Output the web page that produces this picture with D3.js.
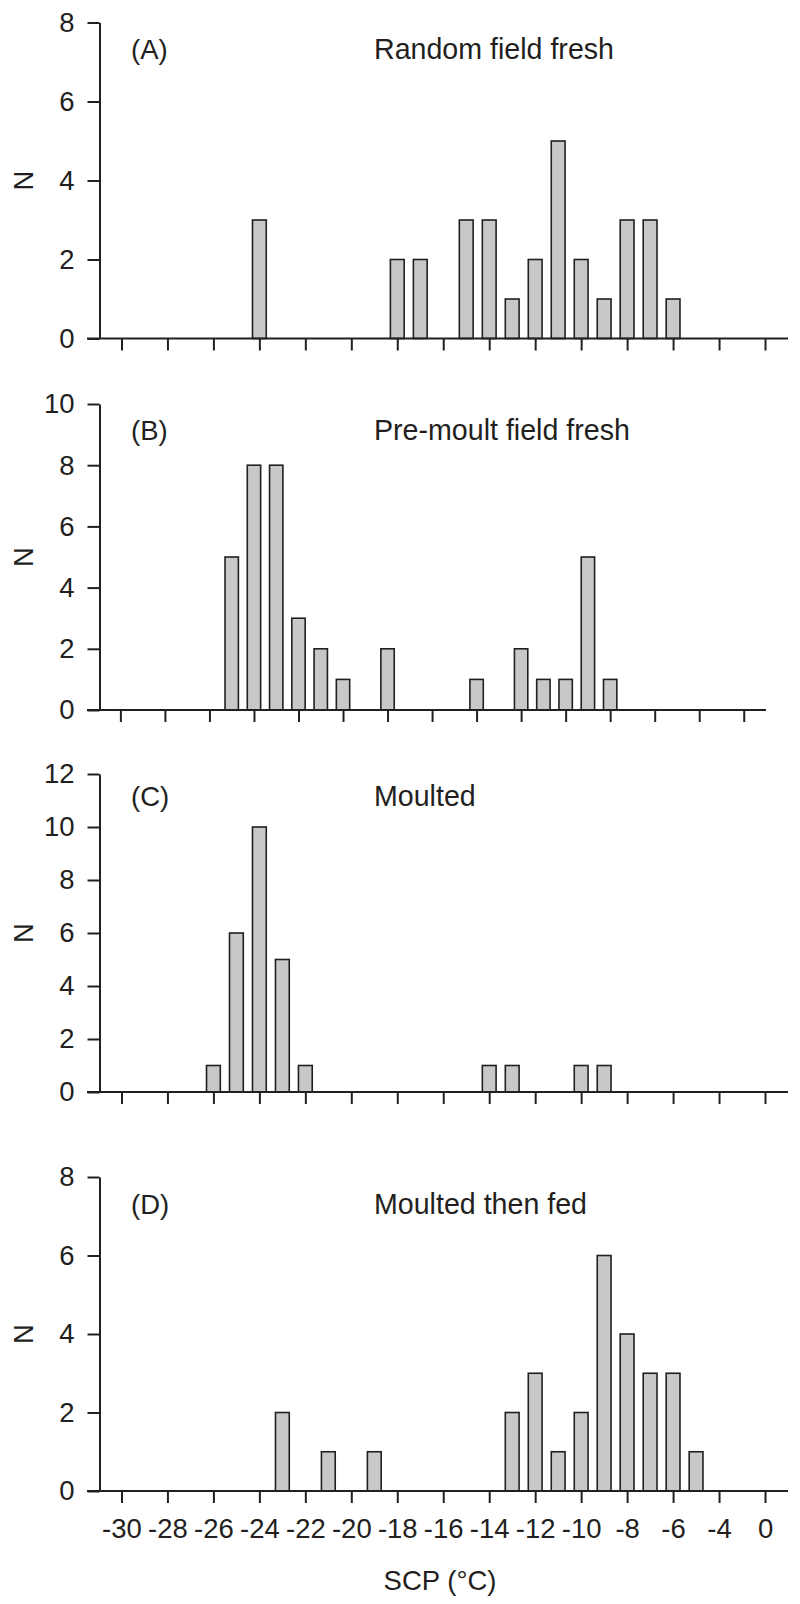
<!DOCTYPE html>
<html>
<head>
<meta charset="utf-8">
<script src="https://cdn.jsdelivr.net/npm/d3@7"></script>
<style>
  html, body { margin: 0; padding: 0; background: #fff; }
  svg { display: block; }
  text { font-family: "Liberation Sans", Arial, Helvetica, sans-serif; fill: #231f20; }
</style>
</head>
<body>
<svg id="chart" width="800" height="1604"></svg>
<script>
// ---------- data ----------
const panelLetters = ["(A)", "(B)", "(C)", "(D)"];
const panelTitles = ["Random field fresh", "Pre-moult field fresh", "Moulted", "Moulted then fed"];
const yMaxima = [8, 10, 12, 8];

const scpA = [-24, -18, -17, -15, -14, -13, -12, -11, -10, -9, -8, -7, -6];
const nA   = [  3,   2,   2,   3,   3,   1,   2,   5,   2,  1,  3,  3,  1];

const scpB = [-25, -24, -23, -22, -21, -20, -18, -14, -12, -11, -10, -9, -8];
const nB   = [  5,   8,   8,   3,   2,   1,   2,   1,   2,   1,   1,  5,  1];

const scpC = [-26, -25, -24, -23, -22, -14, -13, -10, -9];
const nC   = [  1,   6,  10,   5,   1,   1,   1,   1,  1];

const scpD = [-23, -21, -19, -13, -12, -11, -10, -9, -8, -7, -6, -5];
const nD   = [  2,   1,   1,   2,   3,   1,   2,  6,  4,  3,  3,  1];

const xTickValues = [-30, -28, -26, -24, -22, -20, -18, -16, -14, -12, -10, -8, -6, -4, -2];
const xTickLabels = ["-30", "-28", "-26", "-24", "-22", "-20", "-18", "-16", "-14", "-12", "-10", "-8", "-6", "-4", "0"];
const xAxisTitle = "SCP (\u00B0C)";
const yAxisTitle = "N";

const panelScp = [scpA, scpB, scpC, scpD];
const panelN = [nA, nB, nC, nD];

// ---------- layout ----------
const ink = "#231f20";
const barFill = "#c8c8c8";
const fontSize = 27.5;
const titleFontSize = 28.6;
const panelTops = [22.5, 404, 774, 1177];
const panelBottoms = [338.5, 710, 1092, 1491];
const titleBaselines = [59, 440, 806, 1214];
const panelRight = [788, 766, 788, 788];
const yAxisX = 99.5;
const tickLen = 12;

const svg = d3.select("#chart");

panelScp.forEach((scp, i) => {
  const x = d3.scaleLinear().domain([-31.5, -1]).range([87, panelRight[i]]);
  const barW = 0.6 * (x(1) - x(0));
  const y = d3.scaleLinear().domain([0, yMaxima[i]]).range([panelBottoms[i], panelTops[i]]);
  const g = svg.append("g");

  // bars
  g.selectAll("rect.bar")
    .data(scp.map((s, j) => ({ s, n: panelN[i][j] })))
    .enter().append("rect")
    .attr("class", "bar")
    .attr("x", d => x(d.s) - barW / 2)
    .attr("y", d => y(d.n))
    .attr("width", barW)
    .attr("height", d => y(0) - y(d.n))
    .attr("fill", barFill)
    .attr("stroke", ink)
    .attr("stroke-width", 1.6);

  // baseline across full width
  g.append("line")
    .attr("x1", x.range()[0]).attr("x2", x.range()[1])
    .attr("y1", y(0)).attr("y2", y(0))
    .attr("stroke", ink).attr("stroke-width", 2);

  // x ticks
  const xAxis = d3.axisBottom(x)
    .tickValues(xTickValues)
    .tickSize(tickLen)
    .tickSizeOuter(0)
    .tickFormat((d, k) => i === 3 ? xTickLabels[k] : "");
  const xg = g.append("g").attr("transform", `translate(0,${y(0)})`).call(xAxis);
  xg.select(".domain").remove();
  xg.selectAll(".tick line").attr("stroke", ink).attr("stroke-width", 2);
  xg.selectAll(".tick text")
    .attr("y", 47).attr("dy", null)
    .attr("font-size", fontSize)
    .attr("font-family", null)
    .attr("fill", ink);

  // y axis
  const yAxis = d3.axisLeft(y)
    .tickValues(d3.range(0, yMaxima[i] + 1, 2))
    .tickSize(tickLen)
    .tickSizeOuter(0)
    .tickPadding(13)
    .tickFormat(d3.format("d"));
  const yg = g.append("g").attr("transform", `translate(${yAxisX},0)`).call(yAxis);
  yg.select(".domain").attr("stroke", ink).attr("stroke-width", 2);
  yg.selectAll(".tick line").attr("stroke", ink).attr("stroke-width", 2);
  yg.selectAll(".tick text")
    .attr("font-size", fontSize)
    .attr("font-family", null)
    .attr("fill", ink);

  // y title
  g.append("text")
    .attr("transform", `translate(33,${(panelTops[i] + panelBottoms[i]) / 2}) rotate(-90)`)
    .attr("text-anchor", "middle")
    .attr("font-size", fontSize)
    .text(yAxisTitle);

  // panel letter and title
  g.append("text")
    .attr("x", 131).attr("y", titleBaselines[i])
    .attr("font-size", fontSize)
    .text(panelLetters[i]);
  g.append("text")
    .attr("x", 374).attr("y", titleBaselines[i])
    .attr("font-size", titleFontSize)
    .text(panelTitles[i]);
});

// x-axis title
svg.append("text")
  .attr("x", 440).attr("y", 1590)
  .attr("text-anchor", "middle")
  .attr("font-size", fontSize)
  .text(xAxisTitle);
</script>
</body>
</html>
